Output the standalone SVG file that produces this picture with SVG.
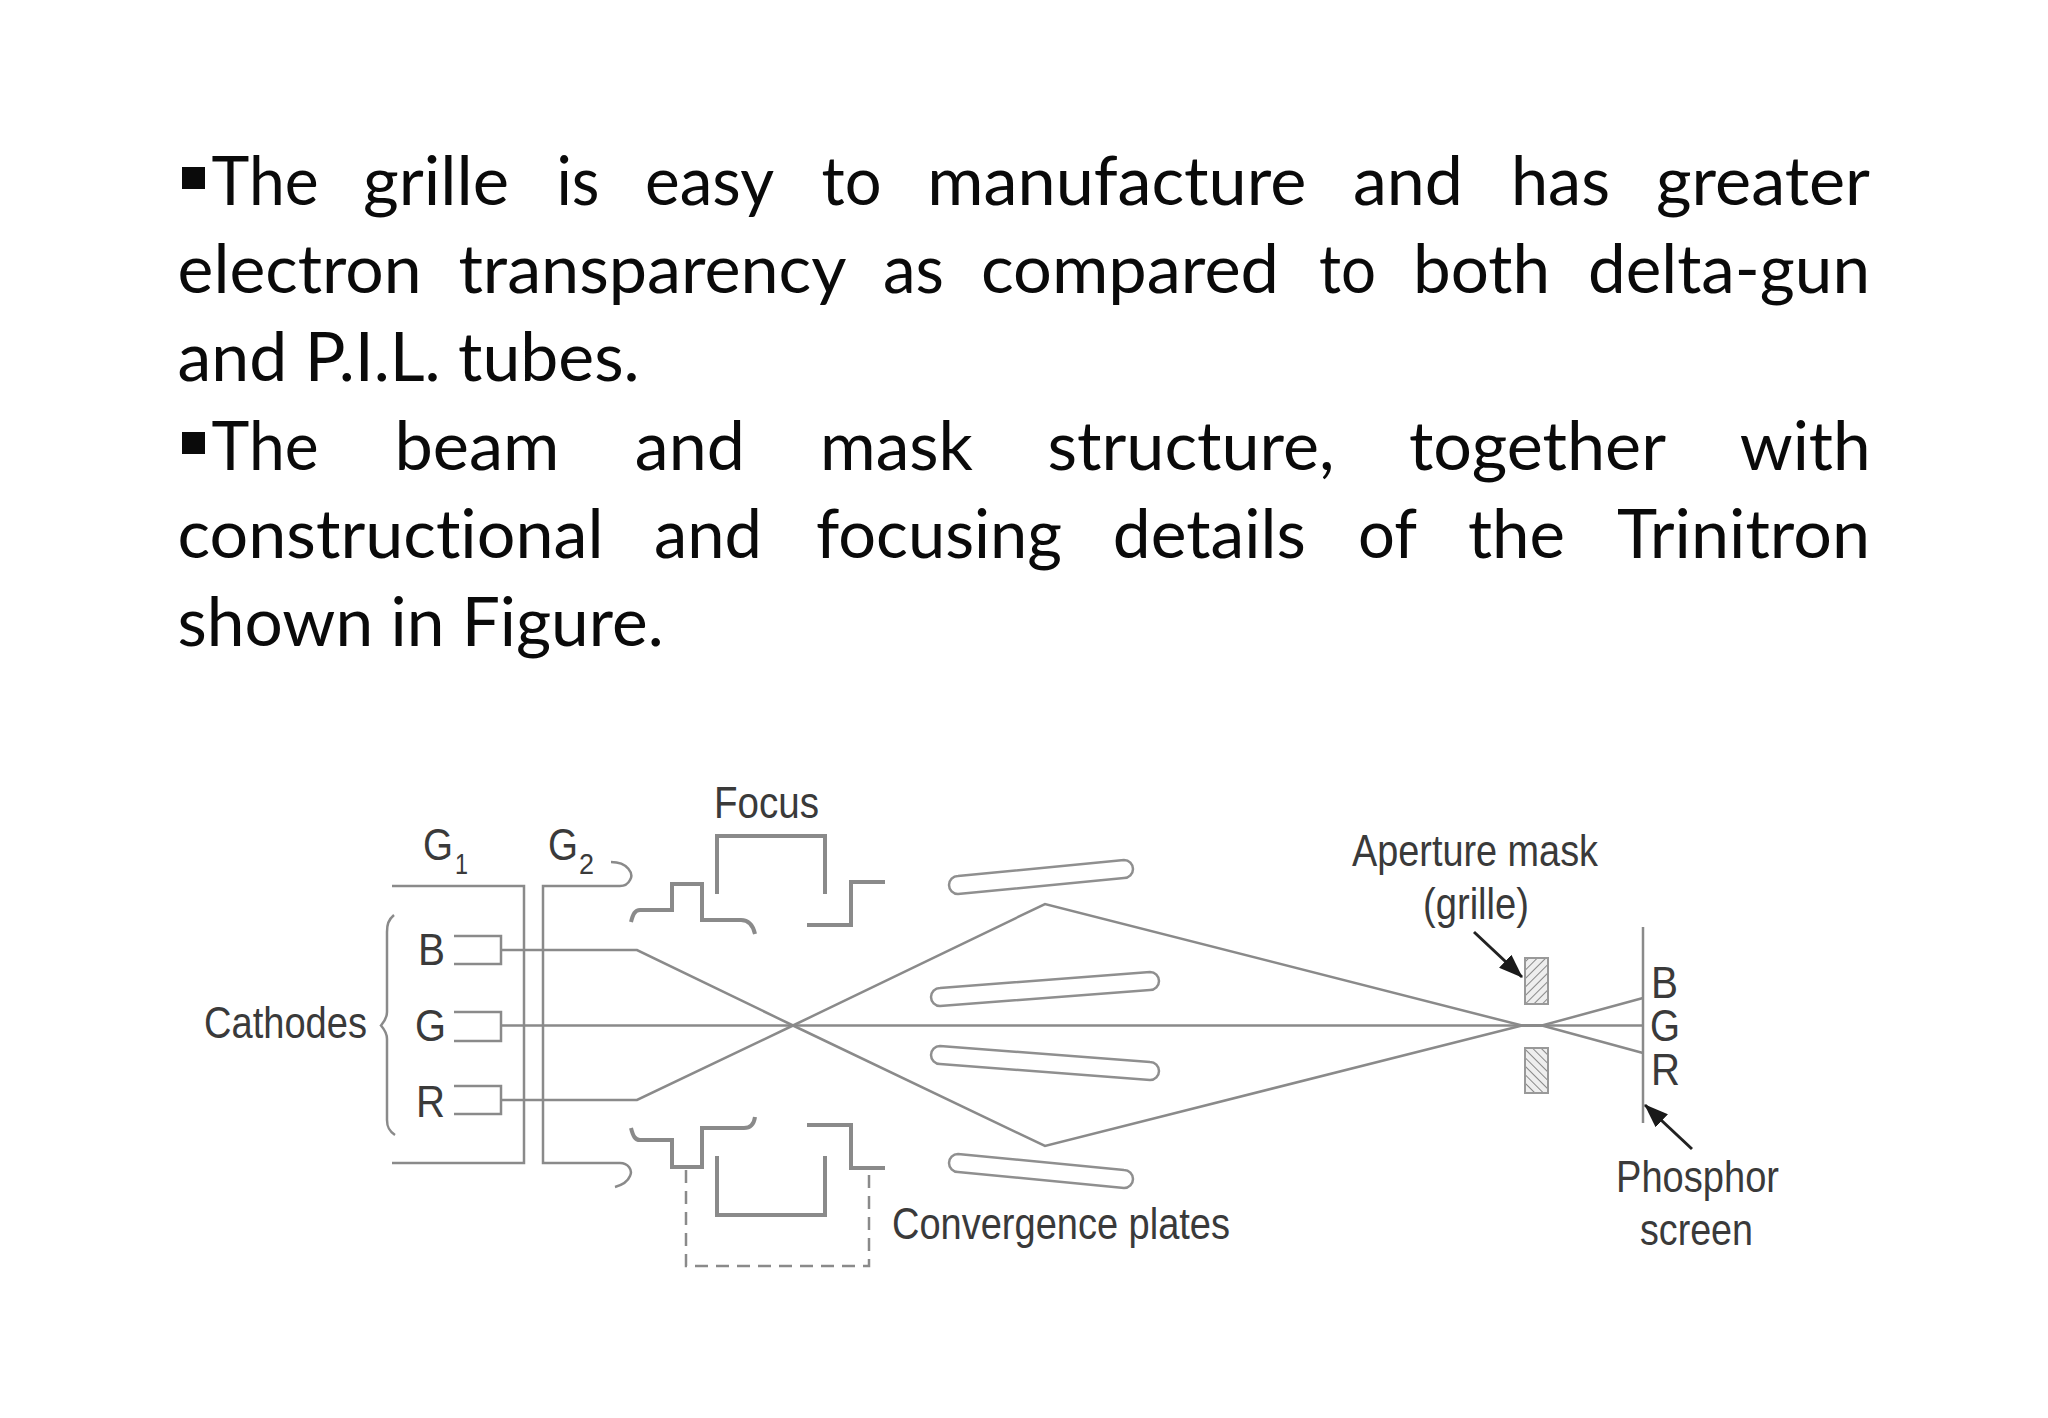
<svg xmlns="http://www.w3.org/2000/svg" width="2048" height="1418" viewBox="0 0 2048 1418">
<style>
.body{font-family:"Lato","Noto Sans",sans-serif;font-size:67px;fill:#0a0a0a;font-variant-ligatures:none}
.lab{font-family:"Liberation Sans",Arial,sans-serif;font-size:45px;fill:#3a3a3a}
.sub{font-family:"Liberation Sans",Arial,sans-serif;font-size:30px;fill:#3a3a3a}
.w{fill:none;stroke:#8a8a8a;stroke-width:2.5}
.t{fill:none;stroke:#8a8a8a;stroke-width:4}
.p{fill:#fff;stroke:#8f8f8f;stroke-width:2.5}
</style>
<defs>
<pattern id="hatch" width="6" height="6" patternUnits="userSpaceOnUse" patternTransform="rotate(45)"><rect width="6" height="6" fill="#eee"/><line x1="0" y1="0" x2="0" y2="6" stroke="#888" stroke-width="2"/></pattern>
<pattern id="hatch2" width="6" height="6" patternUnits="userSpaceOnUse" patternTransform="rotate(-45)"><rect width="6" height="6" fill="#eee"/><line x1="0" y1="0" x2="0" y2="6" stroke="#888" stroke-width="2"/></pattern>
<marker id="arr" markerWidth="24" markerHeight="18" refX="23" refY="9" orient="auto" markerUnits="userSpaceOnUse" viewBox="0 0 24 18"><path d="M0 0L24 9L0 18z" fill="#1a1a1a"/></marker>
</defs>
<rect width="2048" height="1418" fill="#fff"/>
<g id="text">
<rect x="182" y="167" width="23" height="22" fill="#0a0a0a"/>
<text class="body" y="205" lengthAdjust="spacingAndGlyphs"><tspan x="211.600" textLength="107" lengthAdjust="spacingAndGlyphs">The</tspan><tspan x="363" textLength="146" lengthAdjust="spacingAndGlyphs">grille</tspan><tspan x="556.400" textLength="43" lengthAdjust="spacingAndGlyphs">is</tspan><tspan x="645" textLength="129" lengthAdjust="spacingAndGlyphs">easy</tspan><tspan x="821.500" textLength="60" lengthAdjust="spacingAndGlyphs">to</tspan><tspan x="927.300" textLength="379" lengthAdjust="spacingAndGlyphs">manufacture</tspan><tspan x="1353" textLength="110" lengthAdjust="spacingAndGlyphs">and</tspan><tspan x="1511" textLength="99" lengthAdjust="spacingAndGlyphs">has</tspan><tspan x="1656" textLength="214" lengthAdjust="spacingAndGlyphs">greater</tspan></text>
<text class="body" y="293"><tspan x="177.600" textLength="244" lengthAdjust="spacingAndGlyphs">electron</tspan><tspan x="458.400" textLength="388" lengthAdjust="spacingAndGlyphs">transparency</tspan><tspan x="883" textLength="61" lengthAdjust="spacingAndGlyphs">as</tspan><tspan x="981" textLength="298" lengthAdjust="spacingAndGlyphs">compared</tspan><tspan x="1319" textLength="57" lengthAdjust="spacingAndGlyphs">to</tspan><tspan x="1413" textLength="137" lengthAdjust="spacingAndGlyphs">both</tspan><tspan x="1588" textLength="282" lengthAdjust="spacingAndGlyphs">delta-gun</tspan></text>
<text class="body" x="177.600" y="381" textLength="462" lengthAdjust="spacingAndGlyphs">and P.I.L. tubes.</text>
<rect x="182" y="432" width="23" height="22" fill="#0a0a0a"/>
<text class="body" y="470"><tspan x="211.600" textLength="107" lengthAdjust="spacingAndGlyphs">The</tspan><tspan x="394.400" textLength="165" lengthAdjust="spacingAndGlyphs">beam</tspan><tspan x="634.800" textLength="110" lengthAdjust="spacingAndGlyphs">and</tspan><tspan x="820" textLength="153" lengthAdjust="spacingAndGlyphs">mask</tspan><tspan x="1047.500" textLength="287" lengthAdjust="spacingAndGlyphs">structure,</tspan><tspan x="1409" textLength="257" lengthAdjust="spacingAndGlyphs">together</tspan><tspan x="1739.700" textLength="131" lengthAdjust="spacingAndGlyphs">with</tspan></text>
<text class="body" y="558"><tspan x="177.600" textLength="426" lengthAdjust="spacingAndGlyphs">constructional</tspan><tspan x="654" textLength="108" lengthAdjust="spacingAndGlyphs">and</tspan><tspan x="816" textLength="246" lengthAdjust="spacingAndGlyphs">focusing</tspan><tspan x="1112.800" textLength="193" lengthAdjust="spacingAndGlyphs">details</tspan><tspan x="1358" textLength="59" lengthAdjust="spacingAndGlyphs">of</tspan><tspan x="1468" textLength="97" lengthAdjust="spacingAndGlyphs">the</tspan><tspan x="1617" textLength="253" lengthAdjust="spacingAndGlyphs">Trinitron</tspan></text>
<text class="body" x="177.600" y="646" textLength="486" lengthAdjust="spacingAndGlyphs">shown in Figure.</text>
</g>
<g id="connectors">
<path class="w" d="M392 886H524V1163H392"/>
<path class="w" d="M611 862C628 862 634 874 630 880C628 884 625 886 620 886H543V1163H620C628 1163 633 1170 630 1176C628 1181 622 1185 615 1187"/>
<path class="w" d="M501 950H637L793 1025.500L1045 1146L1522 1025.500H1542L1643 998"/>
<path class="w" d="M501 1100H637L793 1025.500L1045 904L1522 1025.500H1542L1643 1053"/>
<path class="w" d="M501 1025.500H1643"/>
<path class="w" d="M1643 927V1123"/>
<path class="w" stroke-dasharray="13 8" d="M686 1170V1266H869V1170"/>
<path d="M1474 932L1522 977" stroke="#222" stroke-width="3" fill="none" marker-end="url(#arr)"/>
<path d="M1692 1149L1645 1105" stroke="#222" stroke-width="3" fill="none" marker-end="url(#arr)"/>
</g>
<g id="brace"><path class="w" d="M394 915C388 920 387 925 387 932V1012C387 1018 384 1022 381 1025.500C384 1029 387 1033 387 1039V1120C387 1127 389 1131 395 1135"/></g>
<g id="cathode-b"><path class="w" d="M454 936H501V964H454"/><text class="lab" x="418" y="965" textLength="27" lengthAdjust="spacingAndGlyphs">B</text></g>
<g id="cathode-g"><path class="w" d="M454 1012H501V1041H454"/><text class="lab" x="415" y="1041" textLength="31" lengthAdjust="spacingAndGlyphs">G</text></g>
<g id="cathode-r"><path class="w" d="M454 1086H501V1114H454"/><text class="lab" x="416" y="1117" textLength="29" lengthAdjust="spacingAndGlyphs">R</text></g>
<g id="labels">
<text class="lab" x="204" y="1038" textLength="163" lengthAdjust="spacingAndGlyphs">Cathodes</text>
<text class="lab" x="423" y="860" textLength="30" lengthAdjust="spacingAndGlyphs">G</text>
<text class="sub" x="455" y="874" textLength="13" lengthAdjust="spacingAndGlyphs">1</text>
<text class="lab" x="548" y="860" textLength="30" lengthAdjust="spacingAndGlyphs">G</text>
<text class="sub" x="579" y="874" textLength="15" lengthAdjust="spacingAndGlyphs">2</text>
<text class="lab" x="714" y="818" textLength="105" lengthAdjust="spacingAndGlyphs">Focus</text>
<text class="lab" x="892" y="1239" textLength="338" lengthAdjust="spacingAndGlyphs">Convergence plates</text>
<text class="lab" x="1352" y="866" textLength="246" lengthAdjust="spacingAndGlyphs">Aperture mask</text>
<text class="lab" x="1423" y="919" textLength="106" lengthAdjust="spacingAndGlyphs">(grille)</text>
<text class="lab" x="1616" y="1192" textLength="163" lengthAdjust="spacingAndGlyphs">Phosphor</text>
<text class="lab" x="1640" y="1245" textLength="113" lengthAdjust="spacingAndGlyphs">screen</text>
<text class="lab" x="1651" y="998" textLength="27" lengthAdjust="spacingAndGlyphs">B</text>
<text class="lab" x="1650" y="1041" textLength="30" lengthAdjust="spacingAndGlyphs">G</text>
<text class="lab" x="1651" y="1085" textLength="29" lengthAdjust="spacingAndGlyphs">R</text>
</g>
<g id="focus-top"><path class="t" d="M631 922C633 914 635 910 640 910H672V884H702V920H741C749 920 753 925 755 934"/><path class="t" d="M717 894V836H825V894"/><path class="t" d="M807 925H851V882H885"/></g>
<g id="focus-bottom"><path class="t" d="M631 1128C633 1136 635 1140 640 1140H672V1167H702V1128H744C750 1128 754 1124 755 1117"/><path class="t" d="M717 1156V1215H825V1156"/><path class="t" d="M807 1125H851V1168H885"/></g>
<g id="plates">
<path class="p" d="M958 876L1124 860A9 9 0 0 1 1124 878L958 894A9 9 0 0 1 958 876Z"/>
<path class="p" d="M940 988L1150 972A9 9 0 0 1 1150 990L940 1006A9 9 0 0 1 940 988Z"/>
<path class="p" d="M940 1046L1150 1062A9 9 0 0 1 1150 1080L940 1064A9 9 0 0 1 940 1046Z"/>
<path class="p" d="M958 1154L1124 1170A9 9 0 0 1 1124 1188L958 1172A9 9 0 0 1 958 1154Z"/>
</g>
<g id="mask"><rect x="1525" y="958" width="23" height="46" fill="url(#hatch)" stroke="#999" stroke-width="2"/><rect x="1525" y="1048" width="23" height="45" fill="url(#hatch2)" stroke="#999" stroke-width="2"/></g>
</svg>
